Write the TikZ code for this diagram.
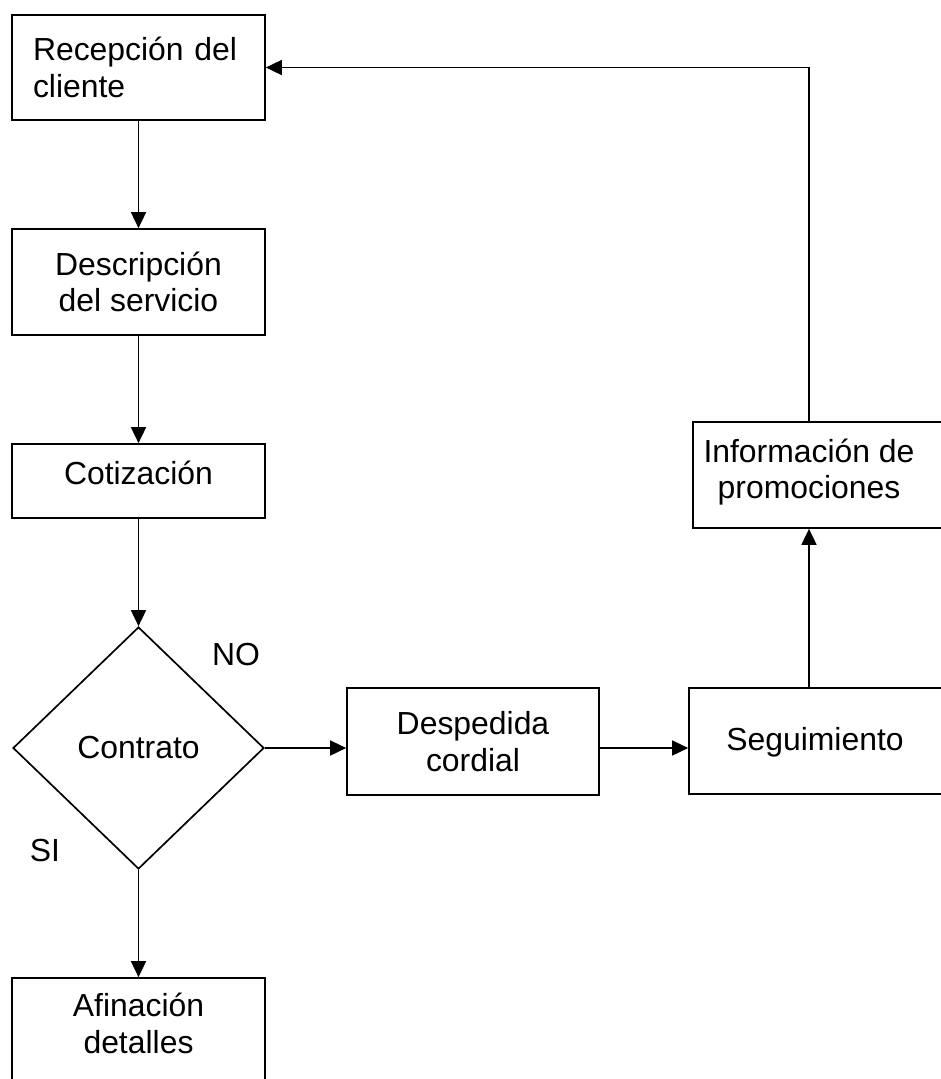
\documentclass[tikz,border=0pt]{standalone}
\usepackage{fontspec}
\setmainfont{Liberation Sans}
\usetikzlibrary{shapes.geometric,arrows.meta}
\begin{document}
\begin{tikzpicture}[x=1pt,y=-1pt,
  every node/.style={font=\fontsize{31.9}{36.5}\selectfont},
  box/.style={draw,line width=1.7pt,rectangle,inner sep=0pt,minimum width=253pt,align=center},
  arr/.style={line width=1.7pt,-{Triangle[length=16pt,width=15pt]}},
  lab/.style={inner sep=0pt}]
\useasboundingbox (0,0) rectangle (941,1079);
\clip (0,0) rectangle (941,1079);
\fill[white] (0,0) rectangle (941,1079);
\node[box,minimum height=105pt,align=left,text width=211pt,inner xsep=21pt] (rec) at (138.5,67.5) {Recepción del\\cliente};
\node[box,minimum height=106pt] (desc) at (138.5,282) {Descripción\\del servicio};
\node[box,minimum height=74pt,text depth=16pt] (cot) at (138.5,481) {Cotización};
\node[draw,line width=1.7pt,diamond,inner sep=0pt,minimum width=251pt,minimum height=242pt] (dia) at (138.5,748) {Contrato};
\node[box,minimum height=120pt,text depth=30pt] (afin) at (138.5,1038) {Afinación\\detalles};
\node[box,minimum width=252pt,minimum height=107pt] (desp) at (473,741.5) {Despedida\\cordial};
\node[box,minimum width=281pt,minimum height=106pt] (seg) at (829.5,741) {};
\node[lab] (segtext) at (815,742) {Seguimiento};
\node[box,minimum width=277pt,minimum height=106pt] (info) at (831.5,475) {};
\node[lab,align=center] (infotext) at (809,472) {Información de\\promociones};
\node[lab] (no) at (236,655) {NO};
\node[lab] (si) at (45,851) {SI};
\draw[arr] (rec.south) -- (desc.north);
\draw[arr] (desc.south) -- (cot.north);
\draw[arr] (cot.south) -- (dia.north);
\draw[arr] (dia.south) -- (afin.north);
\draw[arr] (dia.east) -- (desp.west |- dia.east);
\draw[arr] (desp.east |- dia.east) -- (seg.west |- dia.east);
\draw[arr] (seg.north -| infotext.north) -- (info.south -| infotext.north);
\draw[arr] (info.north -| infotext.north) -- (rec.east -| infotext.north) -- (rec.east);
\end{tikzpicture}
\end{document}
